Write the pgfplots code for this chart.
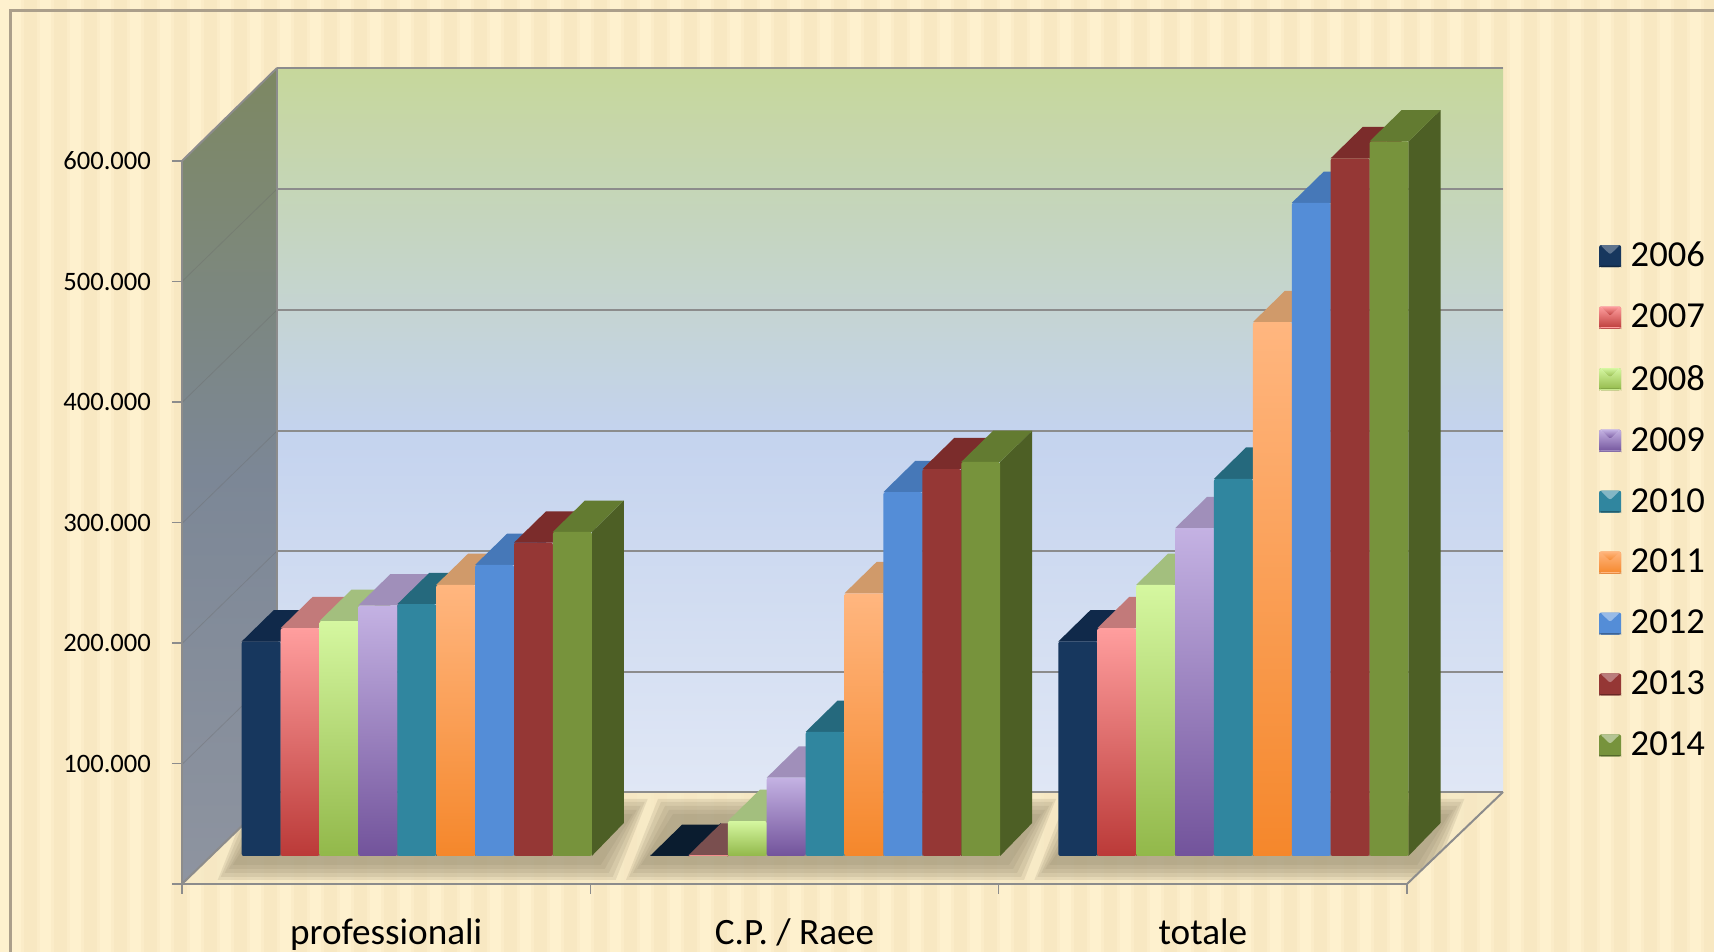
\documentclass[border=0pt]{standalone}
\usepackage{fontspec}
\setmainfont{Carlito}
\usepackage{pgfplots}
\pgfplotsset{compat=1.18}

% face colours: front top, front bottom, top face, side face
\definecolor{f06a}{HTML}{17375E}\definecolor{t06}{HTML}{10294A}\definecolor{s06}{HTML}{0F2641}
\definecolor{f07a}{HTML}{FF9E9E}\definecolor{f07b}{HTML}{BB3A38}\definecolor{t07}{HTML}{C27A7A}\definecolor{s07}{HTML}{8A3A38}
\definecolor{f08a}{HTML}{D5F7A0}\definecolor{f08b}{HTML}{92B84A}\definecolor{t08}{HTML}{A3BF7E}\definecolor{s08}{HTML}{6E8A3A}
\definecolor{f09a}{HTML}{C4B2E3}\definecolor{f09b}{HTML}{72539B}\definecolor{t09}{HTML}{A08FBA}\definecolor{s09}{HTML}{5A4280}
\definecolor{f10a}{HTML}{30869F}\definecolor{t10}{HTML}{25697D}\definecolor{s10}{HTML}{215E70}
\definecolor{f11a}{HTML}{FFB67F}\definecolor{f11b}{HTML}{F5872B}\definecolor{t11}{HTML}{D09A6A}\definecolor{s11}{HTML}{B86C28}
\definecolor{f12a}{HTML}{548DD7}\definecolor{t12}{HTML}{4678B8}\definecolor{s12}{HTML}{386299}
\definecolor{f13a}{HTML}{953735}\definecolor{t13}{HTML}{7B2C2B}\definecolor{s13}{HTML}{652423}
\definecolor{f14a}{HTML}{77933C}\definecolor{t14}{HTML}{637B31}\definecolor{s14}{HTML}{4D5F25}
\definecolor{t06z}{HTML}{0A1C2F}
\definecolor{t07z}{HTML}{7A4F4F}
\definecolor{gridc}{HTML}{8C8C8C}
\definecolor{stripeL}{HTML}{FEF1CE}
\definecolor{stripeD}{HTML}{F8E8C2}
\definecolor{frameC}{HTML}{AB9F8B}
\definecolor{shadowC}{HTML}{8F8468}
\definecolor{backT}{HTML}{C6D79B}
\definecolor{backM}{HTML}{C4D3EE}
\definecolor{backB}{HTML}{E0E7F5}
\definecolor{leftT}{HTML}{7D8862}
\definecolor{leftM}{HTML}{7C8796}
\definecolor{leftB}{HTML}{8E94A0}
\definecolor{floorC}{HTML}{F0E3BE}

\pgfplotsset{
  leg/.style n args={3}{legend image code/.code={
    \fill[#1] (0,-5.5pt) rectangle (11pt,5.5pt);
    \fill[#2] (0.6pt,5.5pt) -- (10.4pt,5.5pt) -- (5.5pt,0.8pt) -- cycle;
    \fill[#3] (0,-5.5pt) rectangle (11pt,-4.8pt);
  }},
  flatbar/.style={ybar,bar width=19.45pt,bar shift=0pt,draw=none,fill=#1,rounded corners=1pt},
  gradbar/.style 2 args={ybar,bar width=19.45pt,bar shift=0pt,draw=none,
    top color=#1,bottom color=#2,rounded corners=1pt},
}

% top and side faces of one bar: centre x, value, top colour, side colour
\newcommand{\faces}[4]{%
  \pgfmathsetmacro\xL{#1-0.04764}%
  \pgfmathsetmacro\xR{#1+0.04764}%
  \pgfmathsetmacro\xLd{#1-0.04764+0.0784}%
  \pgfmathsetmacro\xRd{#1+0.04764+0.0784}%
  \pgfmathsetmacro\yT{#2+26}%
  \addplot[forget plot,fill=#4,draw=none] coordinates {(\xR,0) (\xRd,27.4) (\xRd,\yT) (\xR,#2)};
  \addplot[forget plot,fill=#3,draw=none] coordinates {(\xL,#2) (\xR,#2) (\xRd,\yT) (\xLd,\yT)};
}

\begin{document}
\begin{tikzpicture}
\path[use as bounding box] (0,0) rectangle (857pt,476pt);
\clip (0,0) rectangle (857pt,476pt);

\begin{scope}[x=0.5pt,y=-0.5pt,shift={(0,476pt)}]
  % page background
  \fill[stripeL] (0,0) rectangle (1714,952);
  \foreach \k in {0,...,56}{
    \fill[stripeD!50!stripeL] ({21+30*\k},0) rectangle ({40+30*\k},952);
    \fill[stripeD] ({24+30*\k},0) rectangle ({37+30*\k},952);
  }
  \draw[frameC,line width=1.1pt] (10.5,952) -- (10.5,10.5) -- (1714,10.5);
  % back wall
  \shade[top color=backT,bottom color=backB,middle color=backM]
        (277,68) rectangle (1503,792);
  % left wall
  \shade[top color=leftT,bottom color=leftB,middle color=leftM]
        (182,161) -- (277,68) -- (277,792) -- (182,884) -- cycle;
  % floor
  \fill[stripeL,opacity=0.55] (182,884) -- (1407,884) -- (1503,792) -- (277,792) -- cycle;
  \fill[floorC,opacity=0.45] (182,884) -- (1407,884) -- (1503,792) -- (277,792) -- cycle;
  \begin{scope}
    \clip (182,884) -- (1407,884) -- (1503,792) -- (277,792) -- cycle;
    \foreach \g in {241.7,650,1058.3}{
      \foreach \w in {24,21,17,13,9}{
        \fill[shadowC,opacity=0.17]
          ({\g-\w},{856+\w}) -- ({\g+350+\w},{856+\w}) -- ({\g+382+\w},{823-\w}) -- ({\g+32-\w},{823-\w}) -- cycle;
      }
    }
  \end{scope}
  % wall grid lines
  \foreach \y in {68,189,310,431,551,672}{
    \draw[gridc,line width=1pt] (277,\y) -- (1503,\y);
  }
  \foreach \y [evaluate=\y as \yy using \y+92.5] in {189,310,431,551,672}{
    \draw[gridc!75!black,line width=0.4pt,opacity=0.35] (277,\y) -- (182,\yy);
  }
  \draw[gridc,line width=1pt] (182,161) -- (277,68);
  \draw[gridc,line width=0.8pt] (277,68) -- (277,792);
  \draw[gridc,line width=1pt] (277,792) -- (1503,792);
  \draw[gridc,line width=1pt] (182,884) -- (277,792);
  \draw[gridc,line width=1pt] (1407,884) -- (1503,792);
\end{scope}

% frame axis: ticks, tick labels, front edges
\begin{axis}[
  at={(91pt,34pt)},anchor=south west,
  scale only axis,width=612.5pt,height=361.5pt,
  xmin=0,xmax=3,ymin=0,ymax=600,
  axis lines=left,
  axis line style={-,draw=gridc,line width=1pt},
  tick align=outside,
  tick style={draw=gridc,line width=0.8pt},
  major tick length=5pt,
  xtick={0,1,2,3},
  x tick label as interval=true,
  xticklabels={professionali,C.P. / Raee,totale},
  ytick={0,100,200,300,400,500,600},
  yticklabels={,100.000,200.000,300.000,400.000,500.000,600.000},
  x tick label style={font=\fontsize{18.6}{20}\selectfont,text=black,yshift=-9pt},
  y tick label style={font=\fontsize{13.3}{15}\selectfont,text=black,xshift=-7pt},
  clip=false,
]
\end{axis}

% the bars, on their own base line
\begin{axis}[
  at={(91pt,48pt)},anchor=south west,
  scale only axis,width=612.5pt,height=361.5pt,
  xmin=0,xmax=3,ymin=0,ymax=600,
  hide axis,clip=false,
  legend style={at={(1.1565,0.855)},anchor=north west,draw=none,fill=none,
    font=\fontsize{18.3}{20}\selectfont,row sep=13.1pt,inner sep=0pt,
    /tikz/every odd column/.append style={column sep=2.8pt}},
  legend cell align=left,
]
% 2006
\faces{0.1938}{178}{t06}{s06}
\faces{1.1938}{0}{t06z}{s06}
\faces{2.1938}{178}{t06}{s06}
\addplot[flatbar=f06a,leg={f06a}{f06a!70!white}{f06a!70!black}]
  coordinates {(0.1938,178) (1.1938,0) (2.1938,178)};
\addlegendentry{2006}
% 2007
\faces{0.2891}{189}{t07}{s07}
\faces{1.2891}{1}{t07z}{s07}
\faces{2.2891}{189}{t07}{s07}
\addplot[gradbar={f07a}{f07b},leg={f07b!75!white}{f07a!50!white}{f07b!70!black}]
  coordinates {(0.2891,189)};
\addlegendentry{2007}
\addplot[forget plot,gradbar={f07a}{f07b}] coordinates {(1.2891,1)};
\addplot[forget plot,gradbar={f07a}{f07b}] coordinates {(2.2891,189)};
% 2008
\faces{0.3844}{195}{t08}{s08}
\faces{1.3844}{29}{t08}{s08}
\faces{2.3844}{225}{t08}{s08}
\addplot[gradbar={f08a}{f08b},leg={f08b!85!white}{f08a!40!white}{f08b!70!black}]
  coordinates {(0.3844,195)};
\addlegendentry{2008}
\addplot[forget plot,gradbar={f08a}{f08b}] coordinates {(1.3844,29)};
\addplot[forget plot,gradbar={f08a}{f08b}] coordinates {(2.3844,225)};
% 2009
\faces{0.4796}{208}{t09}{s09}
\faces{1.4796}{65}{t09}{s09}
\faces{2.4796}{272}{t09}{s09}
\addplot[gradbar={f09a}{f09b},leg={f09b!85!white}{f09a!40!white}{f09b!70!black}]
  coordinates {(0.4796,208)};
\addlegendentry{2009}
\addplot[forget plot,gradbar={f09a}{f09b}] coordinates {(1.4796,65)};
\addplot[forget plot,gradbar={f09a}{f09b}] coordinates {(2.4796,272)};
% 2010
\faces{0.5749}{209}{t10}{s10}
\faces{1.5749}{103}{t10}{s10}
\faces{2.5749}{313}{t10}{s10}
\addplot[flatbar=f10a,leg={f10a}{f10a!60!white}{f10a!70!black}]
  coordinates {(0.5749,209) (1.5749,103) (2.5749,313)};
\addlegendentry{2010}
% 2011
\faces{0.6702}{225}{t11}{s11}
\faces{1.6702}{218}{t11}{s11}
\faces{2.6702}{443}{t11}{s11}
\addplot[gradbar={f11a}{f11b},leg={f11b}{f11a}{f11b!70!black}]
  coordinates {(0.6702,225)};
\addlegendentry{2011}
\addplot[forget plot,gradbar={f11a}{f11b}] coordinates {(1.6702,218)};
\addplot[forget plot,gradbar={f11a}{f11b}] coordinates {(2.6702,443)};
% 2012
\faces{0.7654}{241.5}{t12}{s12}
\faces{1.7654}{302}{t12}{s12}
\faces{2.7654}{542}{t12}{s12}
\addplot[flatbar=f12a,leg={f12a}{f12a!60!white}{f12a!70!black}]
  coordinates {(0.7654,241.5) (1.7654,302) (2.7654,542)};
\addlegendentry{2012}
% 2013
\faces{0.8607}{260}{t13}{s13}
\faces{1.8607}{321}{t13}{s13}
\faces{2.8607}{579}{t13}{s13}
\addplot[flatbar=f13a,leg={f13a}{f13a!65!white}{f13a!70!black}]
  coordinates {(0.8607,260) (1.8607,321) (2.8607,579)};
\addlegendentry{2013}
% 2014
\faces{0.9560}{269}{t14}{s14}
\faces{1.9560}{327}{t14}{s14}
\faces{2.9560}{593}{t14}{s14}
\addplot[flatbar=f14a,leg={f14a}{f14a!55!white}{f14a!70!black}]
  coordinates {(0.9560,269) (1.9560,327) (2.9560,593)};
\addlegendentry{2014}
\end{axis}
\end{tikzpicture}
\end{document}
